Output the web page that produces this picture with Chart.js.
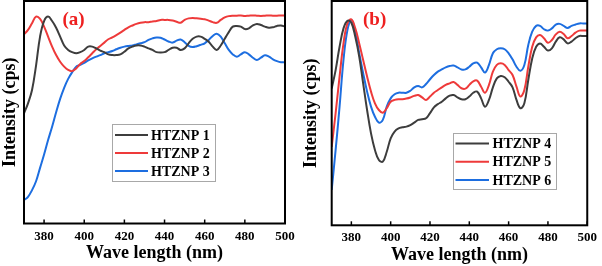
<!DOCTYPE html>
<html>
<head>
<meta charset="utf-8">
<script src="https://cdn.jsdelivr.net/npm/chart.js@4.4.0/dist/chart.umd.min.js"></script>
<style>
  body { margin: 0; background: #fff; }
  canvas { position: absolute; top: 0; }
</style>
</head>
<body>
<canvas id="chartA" width="300" height="266" style="left:0"></canvas>
<canvas id="chartB" width="302" height="266" style="left:300px"></canvas>
<script>
// wavelength (nm), one reading every 2 nm
const wavelengths = [370,372,374,376,378,380,382,384,386,388,390,392,394,396,398,400,402,404,406,408,410,412,414,416,418,420,422,424,426,428,430,432,434,436,438,440,442,444,446,448,450,452,454,456,458,460,462,464,466,468,470,472,474,476,478,480,482,484,486,488,490,492,494,496,498,500];
const xTicks = [380, 400, 420, 440, 460, 480, 500];

// panel (a)
const htznp1 = [49.5,54,60,71,84,91,93,91,88,84,80,78,77,76.5,77,78,79.5,79.5,78.7,77.7,77,76,75.7,75.7,76,77.2,78.7,79.5,80,80,79.5,78.7,78,77,76.8,77,78,79,79,78,78.7,81,83,84,84,83,81.7,79.5,78,80,83,86,88.5,88.8,88.5,87.4,87.7,89,89.7,89.2,88.5,88,88.2,88.8,89,88.5];
const htznp2 = [85,87,90,93,92,88.5,84,79.5,75.7,72.7,70.5,69,68.5,69.7,71.7,73,74.7,76.5,78.3,79.8,81.3,82.8,83.7,84.7,85.8,87,88.2,89,89.7,90.2,90.5,90.5,90.8,91,91.5,91.5,91.5,91.2,90.7,90.2,91.5,92.2,92.4,92.2,92,91.8,91.2,90.5,90.2,91.5,92.6,93.2,93.4,93.4,93.5,93.3,93.4,93.5,93.4,93.3,93.4,93.5,93.4,93.4,93.5,93.4];
const htznp3 = [10.5,12,15,19,25,31,37.5,43.5,50,56,61,65,68,70.5,71.3,72.2,73.3,74.2,75,75.7,76.5,77,77.5,78.3,79,79.5,79.8,80,80.5,81,81.5,82.5,83.2,83.6,83.5,82.7,81.8,81.3,82.2,82.7,81.5,79.8,79.3,79.7,80.3,81,82.5,84.3,85.3,84,81,78,76,75,76,77,76,74.5,73.5,74.5,75.6,75,73.8,73,72.5,72.4];

// panel (b)
const htznp4 = [61,69.2,79.6,87.8,91.2,90.3,84,75.2,63.3,51.4,41,33.6,29.1,28.4,32.8,38.8,41.8,43.2,43.7,44,44.7,45.8,47,47.3,47.7,50,52.6,54,55.1,56.6,57.8,58.1,57,56.2,56.2,57.4,59.1,59.6,56.6,52.9,55.9,61.5,65.5,66.6,66,64,61.5,55.9,52.2,54.4,64.8,74.4,79.6,81.1,79.6,77.9,78.9,81.9,83.8,82.9,81.1,81.9,83.4,84.4,84.4,84.4];
const htznp5 = [35,50,66.3,81.1,90,91.8,87.8,81.1,73.7,66.3,59.6,54.4,51.4,50.2,52.2,55.1,55.9,56.2,56.2,56.5,57,57.7,58.1,57,55.9,57.4,59.1,60.3,61.5,62.6,63.3,63.9,62.6,61.1,60.9,62.6,64.2,64.5,61.8,59.1,62.6,68.5,71.5,72.2,71.5,69.2,67,61.8,57.4,60.3,70.7,79.6,83.8,84.8,83.4,81.4,82.6,85.1,86.3,85.3,83.4,84.4,85.9,86.8,86.8,86.8];
const htznp6 = [15.8,33.6,52.9,73.7,87.1,91.5,86.3,76.7,67.8,59.6,52.9,48.4,45.8,47,52.9,56.6,58.4,59.1,59.1,59.1,60,61.5,62.1,61.5,63,65.1,67,68.5,69.5,70.4,71,71.2,70.4,69.5,69.5,70.7,72.2,72.5,70.4,68.1,71.5,76.7,78.5,78.9,78.5,76.7,74,70.7,68.9,71.5,80.4,86.3,88.9,88.9,87.4,86.8,87.8,89.5,89.8,88.9,88,88.9,89.5,90,90,90];

const lineColors = ['#3d3d3d', '#ee3a3a', '#1d6ee0'];
const serif = "'Liberation Serif', 'Times New Roman', serif";

function toPoints(ys) {
    return wavelengths.map((w, i) => ({ x: w, y: ys[i] }));
}

// frame, inner tick marks, panel letter and boxed legend
const framePlugin = {
    id: 'frame',
    afterDraw(chart, args, opts) {
        const ctx = chart.ctx;
        const a = chart.chartArea;
        const xs = chart.scales.x;
        ctx.save();
        ctx.strokeStyle = '#000';
        ctx.lineWidth = 2;
        ctx.strokeRect(a.left, a.top, a.right - a.left, a.bottom - a.top);
        ctx.lineWidth = 1.5;
        xTicks.forEach(t => {
            const px = xs.getPixelForValue(t);
            ctx.beginPath();
            ctx.moveTo(px, a.bottom);
            ctx.lineTo(px, a.bottom - 4);
            ctx.stroke();
        });

        // panel letter
        ctx.fillStyle = '#ee2020';
        ctx.font = 'bold 19px ' + serif;
        ctx.textBaseline = 'middle';
        ctx.fillText(opts.letter, opts.letterX, opts.letterY);

        // legend box
        const lg = opts.legend;
        ctx.strokeStyle = '#a8a8a8';
        ctx.lineWidth = 1;
        ctx.strokeRect(lg.left + 0.5, lg.top + 0.5, lg.width, lg.height);
        ctx.font = 'bold 14px ' + serif;
        chart.data.datasets.forEach((ds, i) => {
            const y = lg.top + lg.first + i * lg.rowH;
            ctx.strokeStyle = ds.borderColor;
            ctx.lineWidth = 2;
            ctx.beginPath();
            ctx.moveTo(lg.left + lg.lineStart, y);
            ctx.lineTo(lg.left + lg.lineStart + lg.lineLen, y);
            ctx.stroke();
            ctx.fillStyle = '#000';
            ctx.fillText(ds.label, lg.left + lg.textX, y + 1);
        });
        ctx.restore();
    }
};

function makeChart(id, names, series, setup) {
    new Chart(document.getElementById(id), {
        type: 'line',
        data: {
            datasets: series.map((s, i) => ({
                label: names[i],
                data: toPoints(s),
                borderColor: lineColors[i],
                borderWidth: 2,
                pointRadius: 0,
                tension: 0.4
            }))
        },
        options: {
            responsive: false,
            animation: false,
            layout: { padding: { top: 1, right: setup.right, left: 0, bottom: 0 } },
            plugins: {
                legend: { display: false },
                tooltip: { enabled: false },
                frame: setup.frame
            },
            scales: {
                x: {
                    type: 'linear',
                    min: 370,
                    max: 500,
                    afterBuildTicks: scale => { scale.ticks = xTicks.map(v => ({ value: v })); },
                    afterFit: scale => { scale.height = setup.xHeight; },
                    grid: { display: false, drawTicks: false },
                    border: { display: false },
                    ticks: { color: '#000', padding: 5, maxRotation: 0, font: { family: serif, size: 13, weight: 'bold' } },
                    title: { display: true, text: 'Wave length (nm)', color: '#000', padding: { top: 0, bottom: setup.titlePad }, font: { family: serif, size: 18, weight: 'bold' } }
                },
                y: {
                    min: 0,
                    max: 100,
                    afterFit: scale => { scale.width = setup.yWidth; },
                    grid: { display: false, drawTicks: false },
                    border: { display: false },
                    ticks: { display: false },
                    title: { display: true, text: 'Intensity (cps)', color: '#000', padding: { top: setup.yTitlePad, bottom: 0 }, font: { family: serif, size: 18, weight: 'bold' } }
                }
            }
        },
        plugins: [framePlugin]
    });
}

// chart (a)
makeChart('chartA', ['HTZNP 1', 'HTZNP 2', 'HTZNP 3'], [htznp1, htznp2, htznp3], {
    right: 15, xHeight: 42.5, yWidth: 24, titlePad: 2, yTitlePad: 0,
    frame: {
        letter: '(a)', letterX: 62.5, letterY: 20,
        legend: { left: 112, top: 124, width: 103, height: 57, first: 11, rowH: 18, lineStart: 3, lineLen: 33, textX: 39 }
    }
});

// chart (b)
makeChart('chartB', ['HTZNP 4', 'HTZNP 5', 'HTZNP 6'], [htznp4, htznp5, htznp6], {
    right: 10, xHeight: 40.7, yWidth: 31.7, titlePad: 0, yTitlePad: 1,
    frame: {
        letter: '(b)', letterX: 63, letterY: 20,
        legend: { left: 153, top: 133, width: 103, height: 56, first: 10.5, rowH: 18.3, lineStart: 2.5, lineLen: 33.5, textX: 39.5 }
    }
});
</script>
</body>
</html>
